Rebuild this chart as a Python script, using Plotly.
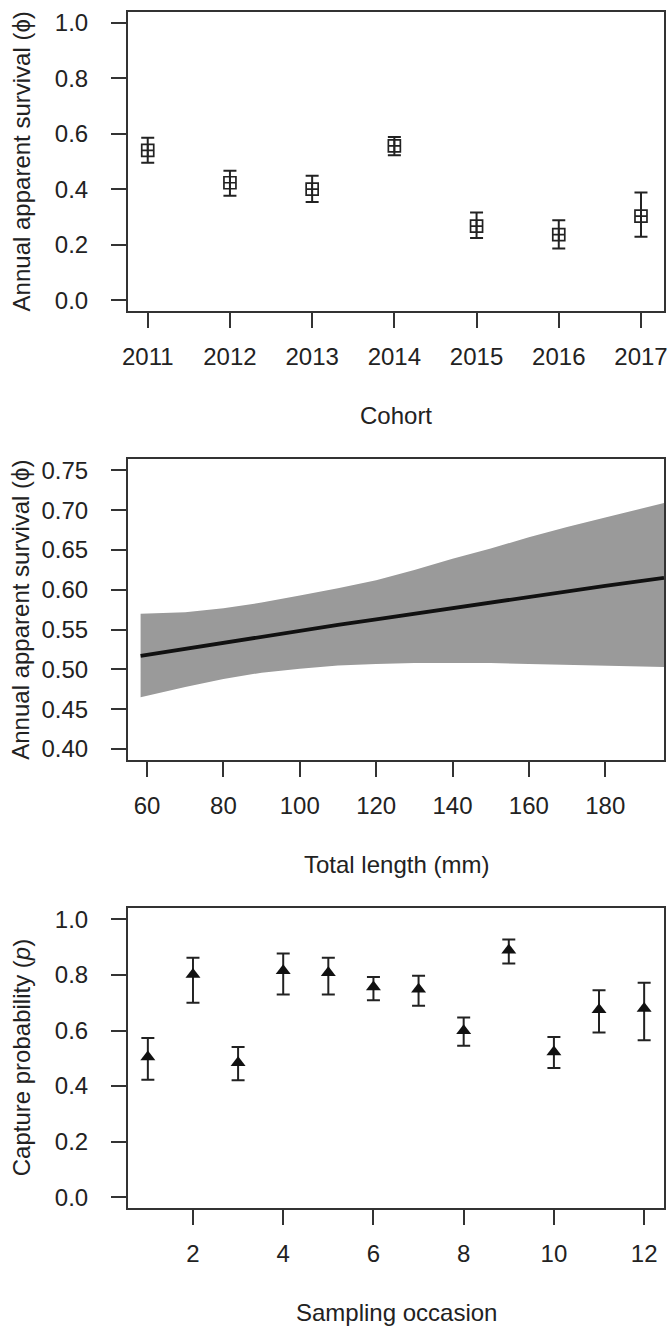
import plotly.graph_objects as go

# ---------------- data ----------------
cohort = [2011, 2012, 2013, 2014, 2015, 2016, 2017]
phi_cohort = [0.540, 0.423, 0.400, 0.556, 0.267, 0.236, 0.303]
phi_cohort_lo = [0.495, 0.376, 0.354, 0.522, 0.224, 0.186, 0.228]
phi_cohort_hi = [0.585, 0.466, 0.448, 0.588, 0.316, 0.288, 0.388]

total_length = [58.3, 70, 80, 90, 100, 110, 120, 130, 140, 150, 160, 170, 180, 195.4]
phi_length = [0.517, 0.526, 0.533, 0.541, 0.548, 0.556, 0.563, 0.570, 0.578, 0.585,
              0.592, 0.599, 0.605, 0.615]
phi_length_hi = [0.570, 0.572, 0.577, 0.584, 0.593, 0.602, 0.612, 0.625, 0.639, 0.652,
                 0.666, 0.679, 0.691, 0.709]
phi_length_lo = [0.465, 0.478, 0.488, 0.496, 0.501, 0.505, 0.507, 0.508, 0.508, 0.508,
                 0.507, 0.506, 0.505, 0.503]

occasion = [1, 2, 3, 4, 5, 6, 7, 8, 9, 10, 11, 12]
p_capture = [0.505, 0.802, 0.484, 0.815, 0.808, 0.757, 0.749, 0.599, 0.889, 0.523, 0.675, 0.679]
p_capture_lo = [0.423, 0.700, 0.421, 0.730, 0.730, 0.709, 0.689, 0.545, 0.841, 0.465, 0.593, 0.565]
p_capture_hi = [0.573, 0.862, 0.541, 0.877, 0.862, 0.793, 0.797, 0.647, 0.928, 0.577, 0.745, 0.772]

# ---------------- layout geometry ----------------
W, H = 669, 1328
X0, X1 = 128, 664
panels_px = [(11.6, 311.2), (459.3, 760.2), (908.3, 1208.3)]
FONT = "Liberation Sans, Arial, sans-serif"
FS = 24
INK = "#222222"
FRAME = "#333333"


def ydom(top, bot):
    return [1 - bot / H, 1 - top / H]


xdom = [X0 / W, X1 / W]

fig = go.Figure()

# Panel 1
fig.add_trace(go.Scatter(
    x=cohort, y=phi_cohort, mode="markers", xaxis="x", yaxis="y",
    marker=dict(symbol="square-cross-open", size=12, color=INK, line=dict(width=1.7, color=INK)),
    error_y=dict(type="data", symmetric=False,
                 array=[h - m for h, m in zip(phi_cohort_hi, phi_cohort)],
                 arrayminus=[m - l for m, l in zip(phi_cohort, phi_cohort_lo)],
                 color=INK, thickness=2, width=6.5),
    showlegend=False))

# Panel 2: band + line
fig.add_trace(go.Scatter(
    x=total_length, y=phi_length_lo, mode="lines", xaxis="x2", yaxis="y2",
    line=dict(width=0, color="#9a9a9a"), showlegend=False, hoverinfo="skip"))
fig.add_trace(go.Scatter(
    x=total_length, y=phi_length_hi, mode="lines", xaxis="x2", yaxis="y2",
    line=dict(width=0, color="#9a9a9a"), fill="tonexty", fillcolor="#9a9a9a",
    showlegend=False, hoverinfo="skip"))
fig.add_trace(go.Scatter(
    x=total_length, y=phi_length, mode="lines", xaxis="x2", yaxis="y2",
    line=dict(width=3.8, color="#111111"), showlegend=False))

# Panel 3
fig.add_trace(go.Scatter(
    x=occasion, y=p_capture, mode="markers", xaxis="x3", yaxis="y3",
    marker=dict(symbol="triangle-up", size=13, color="#111111"),
    error_y=dict(type="data", symmetric=False,
                 array=[h - m for h, m in zip(p_capture_hi, p_capture)],
                 arrayminus=[m - l for m, l in zip(p_capture, p_capture_lo)],
                 color=INK, thickness=2, width=6.5),
    showlegend=False))

axis_common = dict(showline=True, mirror=True, linecolor=FRAME, linewidth=2,
                   ticks="outside", ticklen=15, tickwidth=2, tickcolor=FRAME,
                   showgrid=False, zeroline=False, ticklabeloverflow="allow",
                   automargin=False,
                   tickfont=dict(family=FONT, size=FS, color=INK))
XSO = 8
YSO = 18

fig.update_layout(
    width=W, height=H, margin=dict(l=0, r=0, t=0, b=0, autoexpand=False),
    paper_bgcolor="white", plot_bgcolor="white",
    font=dict(family=FONT, size=FS, color=INK),
    xaxis=dict(domain=xdom, anchor="y", range=[2010.76, 2017.28],
               tickvals=cohort, ticklabelstandoff=XSO, **axis_common),
    yaxis=dict(domain=ydom(*panels_px[0]), anchor="x", range=[-0.04, 1.04],
               tickvals=[0, 0.2, 0.4, 0.6, 0.8, 1.0], ticktext=["0.0", "0.2", "0.4", "0.6", "0.8", "1.0"],
               ticklabelstandoff=YSO, **axis_common),
    xaxis2=dict(domain=xdom, anchor="y2", range=[55.0, 195.4],
                tickvals=[60, 80, 100, 120, 140, 160, 180], ticklabelstandoff=XSO, **axis_common),
    yaxis2=dict(domain=ydom(*panels_px[1]), anchor="x2", range=[0.386, 0.764],
                tickvals=[0.40, 0.45, 0.50, 0.55, 0.60, 0.65, 0.70, 0.75],
                ticktext=["0.40", "0.45", "0.50", "0.55", "0.60", "0.65", "0.70", "0.75"],
                ticklabelstandoff=YSO, **axis_common),
    xaxis3=dict(domain=xdom, anchor="y3", range=[0.56, 12.44],
                tickvals=[2, 4, 6, 8, 10, 12], ticklabelstandoff=XSO, **axis_common),
    yaxis3=dict(domain=ydom(*panels_px[2]), anchor="x3", range=[-0.04, 1.04],
                tickvals=[0, 0.2, 0.4, 0.6, 0.8, 1.0], ticktext=["0.0", "0.2", "0.4", "0.6", "0.8", "1.0"],
                ticklabelstandoff=YSO, **axis_common),
)

# Axis titles as annotations
xtitles = ["Cohort", "Total length (mm)", "Sampling occasion"]
ytitles = ["Annual apparent survival (ϕ)", "Annual apparent survival (ϕ)",
           "Capture probability (<i>p</i>)"]
xc = (X0 + X1) / 2 / W
for (top, bot), xt, yt in zip(panels_px, xtitles, ytitles):
    fig.add_annotation(text=xt, xref="paper", yref="paper", x=xc, y=1 - (bot + 104) / H,
                       xanchor="center", yanchor="middle", showarrow=False,
                       font=dict(family=FONT, size=FS, color=INK))
    fig.add_annotation(text=yt, xref="paper", yref="paper", x=21 / W, y=1 - (top + bot) / 2 / H,
                       xanchor="center", yanchor="middle", textangle=-90, showarrow=False,
                       font=dict(family=FONT, size=FS, color=INK))

fig.write_html("out.html")
